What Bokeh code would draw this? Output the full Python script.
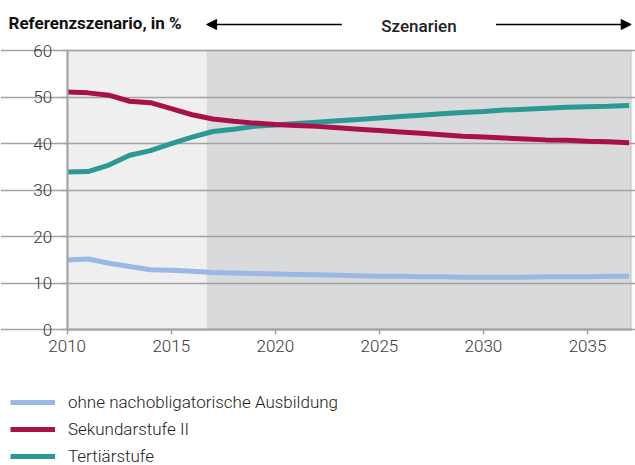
from bokeh.plotting import figure
from bokeh.models import (Range1d, FixedTicker, Label, Arrow, NormalHead,
                          BoxAnnotation, Legend, LegendItem)
from bokeh.embed import file_html
from bokeh.resources import INLINE

# ---- data ----
years = list(range(2010, 2038))
ohne = [15.0, 15.2, 14.3, 13.6, 12.9, 12.8, 12.6, 12.3, 12.2, 12.1, 12.0, 11.9,
        11.8, 11.7, 11.6, 11.5, 11.5, 11.4, 11.4, 11.3, 11.3, 11.3, 11.3, 11.4,
        11.4, 11.4, 11.5, 11.5]
sek2 = [51.1, 50.9, 50.4, 49.1, 48.8, 47.5, 46.2, 45.3, 44.8, 44.4, 44.1, 43.9,
        43.7, 43.4, 43.1, 42.8, 42.5, 42.2, 41.9, 41.6, 41.4, 41.2, 41.0, 40.8,
        40.7, 40.5, 40.4, 40.2]
tert = [33.9, 34.0, 35.4, 37.5, 38.5, 40.0, 41.4, 42.6, 43.1, 43.7, 44.0, 44.3,
        44.6, 44.9, 45.2, 45.5, 45.8, 46.1, 46.4, 46.7, 46.9, 47.2, 47.4, 47.6,
        47.8, 47.9, 48.0, 48.2]
series_names = ["ohne nachobligatorische Ausbildung", "Sekundarstufe II", "Tertiärstufe"]
series_colors = ["#9bb7e3", "#a9104a", "#2c9994"]
x_ticks = [2010, 2015, 2020, 2025, 2030, 2035]
y_ticks = [0, 10, 20, 30, 40, 50, 60]
x_start, x_end = 2010, 2037.1
y_start, y_end = 0, 60
scenario_start = 2016.7
title_text = "Referenzszenario, in %"
scen_text = "Szenarien"

FONT = "Roboto"
FONT_LIGHT = "'Roboto Light', Roboto"
FONT_MED = "'Roboto Medium', Roboto"
GRAY = "#a3a3a3"
W, H = 635, 465
# pixel placement of the plotting area inside the canvas
PX_L, PX_R, PX_T, PX_B = 66.7, 630.7, 50.0, 329.3
ppx = (PX_R - PX_L) / (x_end - x_start)
ppy = (PX_B - PX_T) / (y_end - y_start)
xr = Range1d(x_start - PX_L / ppx, x_end + (W - PX_R) / ppx)
yr = Range1d(y_start - (H - PX_B) / ppy, y_end + PX_T / ppy)

p = figure(width=W, height=H, output_backend="svg", toolbar_location=None,
           x_range=xr, y_range=yr, min_border=0, min_border_left=0,
           min_border_right=0, min_border_top=0, min_border_bottom=0)
p.background_fill_color = "white"
p.border_fill_color = "white"
p.outline_line_color = None

# shaded areas
p.add_layout(BoxAnnotation(left=x_start, right=scenario_start, bottom=y_start, top=y_end,
                           fill_color="#efefef", fill_alpha=1, line_alpha=0, level="image"))
p.add_layout(BoxAnnotation(left=scenario_start, right=x_end, bottom=y_start, top=y_end,
                           fill_color="#d9dadb", fill_alpha=1, line_alpha=0, level="image"))
p.add_layout(BoxAnnotation(left=x_start, right=x_end, bottom=y_start, top=y_end,
                           fill_alpha=0, line_color=GRAY, line_width=2, level="underlay"))

# axes at fixed positions
p.xaxis[0].fixed_location = y_start
p.yaxis[0].fixed_location = x_start
p.xaxis[0].bounds = (x_start, x_end)
p.yaxis[0].bounds = (y_start, y_end)
for ax in (p.xaxis[0], p.yaxis[0]):
    ax.axis_line_color = GRAY
    ax.axis_line_width = 2
    ax.major_tick_line_color = GRAY
    ax.major_tick_line_width = 1.5
    ax.major_tick_out = 5
    ax.major_tick_in = 0
    ax.minor_tick_line_color = None
    ax.major_label_text_font = FONT_LIGHT
    ax.major_label_text_font_size = "17px"
    ax.major_label_text_color = "#3a3a3a"
p.xaxis[0].ticker = FixedTicker(ticks=x_ticks)
p.yaxis[0].ticker = FixedTicker(ticks=y_ticks)
p.xaxis[0].major_label_standoff = 5
p.yaxis[0].major_label_standoff = 10

p.xgrid.grid_line_color = None
p.ygrid.grid_line_color = GRAY
p.ygrid.grid_line_width = 1.5
p.ygrid.ticker = FixedTicker(ticks=y_ticks)
p.ygrid.bounds = (x_start, x_end)

r_ohne = p.line(years, ohne, line_color=series_colors[0], line_width=5)
r_tert = p.line(years, tert, line_color=series_colors[2], line_width=5)
r_sek = p.line(years, sek2, line_color=series_colors[1], line_width=5)

legend = Legend(items=[LegendItem(label=series_names[0], renderers=[r_ohne]),
                       LegendItem(label=series_names[1], renderers=[r_sek]),
                       LegendItem(label=series_names[2], renderers=[r_tert])],
                location=(10, -1), orientation="vertical",
                glyph_width=45, glyph_height=20, label_height=20,
                label_standoff=13, spacing=7, padding=0, margin=0,
                border_line_color=None, background_fill_alpha=0,
                label_text_font=FONT_LIGHT, label_text_font_size="17px",
                label_text_color="#222222")
p.add_layout(legend)

# header
title_y = H - 22
p.add_layout(Label(x=8, y=title_y, x_units="screen", y_units="screen",
                   text=title_text, text_font=FONT, text_font_size="17px",
                   text_font_style="bold", text_color="#111111",
                   text_baseline="middle", text_align="left"))
scen_mid = (scenario_start + x_end) / 2
p.add_layout(Label(x=scen_mid, y=H - 25, x_units="data", y_units="screen",
                   text=scen_text, text_font=FONT_MED, text_font_size="17px",
                   text_font_style="normal", text_color="#222222",
                   text_baseline="middle", text_align="center"))
gap = 3.7
arrow_y = y_end + (PX_T - 24) / ppy
p.add_layout(Arrow(x_start=scen_mid - gap, y_start=arrow_y, x_end=scenario_start,
                   y_end=arrow_y, line_width=1.5, line_color="black",
                   end=NormalHead(size=10, fill_color="black", line_color="black")))
p.add_layout(Arrow(x_start=scen_mid + gap, y_start=arrow_y, x_end=x_end,
                   y_end=arrow_y, line_width=1.5, line_color="black",
                   end=NormalHead(size=10, fill_color="black", line_color="black")))

open("out.html", "w").write(file_html(p, INLINE))
